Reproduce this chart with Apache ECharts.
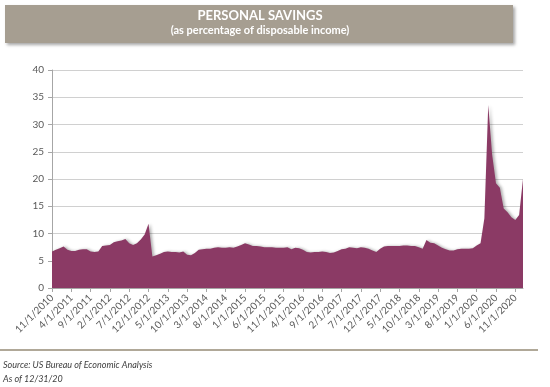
<!DOCTYPE html>
<html>
<head>
<meta charset="utf-8">
<script src="https://cdn.jsdelivr.net/npm/echarts@6/dist/echarts.min.js"></script>
<style>
html,body{margin:0;padding:0;background:#fff;}
#chart{width:550px;height:387px;}
</style>
</head>
<body>
<div id="chart"></div>
<script>
// Monthly dates from 11/1/2010 to 1/1/2021
var startYear = 2010, startMonth = 11, monthCount = 123;
var categories = [];
for (var i = 0; i < monthCount; i++) {
  var m = (startMonth - 1 + i) % 12 + 1;
  var y = startYear + Math.floor((startMonth - 1 + i) / 12);
  categories.push(m + '/1/' + y);
}

// Personal savings rate (% of disposable income)
var savings2010_2012 = [6.7, 7.0, 7.3, 7.6, 7.0, 6.8, 6.8, 7.0, 7.1, 7.1, 6.7, 6.6, 6.7, 7.7, 7.8, 7.9, 8.4, 8.6, 8.7, 9.0, 8.2, 7.9, 8.2, 8.9, 9.8, 11.8];
var savings2013_2015 = [5.8, 6.0, 6.3, 6.6, 6.7, 6.6, 6.6, 6.5, 6.7, 6.1, 6.0, 6.4, 7.0, 7.1, 7.2, 7.2, 7.4, 7.5, 7.4, 7.4, 7.5, 7.4, 7.6, 7.9, 8.2, 8.0, 7.7, 7.7, 7.6, 7.5, 7.5, 7.5, 7.4, 7.4, 7.4, 7.5];
var savings2016_2018 = [7.1, 7.4, 7.3, 7.0, 6.6, 6.5, 6.6, 6.6, 6.7, 6.6, 6.4, 6.5, 6.8, 7.1, 7.2, 7.5, 7.4, 7.3, 7.5, 7.4, 7.2, 6.9, 6.6, 7.2, 7.6, 7.7, 7.7, 7.7, 7.7, 7.8, 7.8, 7.7, 7.7, 7.5, 7.2, 8.8];
var savings2019_2021 = [8.3, 8.2, 7.8, 7.4, 7.1, 6.9, 6.9, 7.1, 7.2, 7.2, 7.2, 7.3, 7.8, 8.2, 12.8, 33.6, 24.5, 19.2, 18.4, 14.6, 13.9, 13.0, 12.5, 13.4, 20.0];
var savings = savings2010_2012.concat(savings2013_2015, savings2016_2018, savings2019_2021);

var yTicks = { min: 0, max: 40, interval: 5 };

var titleText = 'PERSONAL SAVINGS';
var subtitleText = '(as percentage of disposable income)';
var sourceText = 'Source: US Bureau of Economic Analysis';
var asOfText = 'As of 12/31/20';

var chart = echarts.init(document.getElementById('chart'), null, { renderer: 'canvas' });
var font = 'Lato, "Open Sans", sans-serif';

chart.setOption({
  animation: false,
  backgroundColor: '#ffffff',
  grid: { left: 52, right: 27, top: 70, bottom: 99, containLabel: false },
  graphic: [
    {
      type: 'rect', z: 10,
      shape: { x: 5, y: 5, width: 508, height: 38 },
      style: { fill: '#a69e91', shadowBlur: 3, shadowOffsetX: 2, shadowOffsetY: 2, shadowColor: 'rgba(0,0,0,0.35)' }
    },
    {
      type: 'text', z: 11,
      style: { text: titleText, x: 260, y: 16, fill: '#ffffff', font: 'bold 13px ' + font, align: 'center', verticalAlign: 'middle' }
    },
    {
      type: 'text', z: 11,
      style: { text: subtitleText, x: 260, y: 30, fill: '#ffffff', font: 'bold 11px ' + font, align: 'center', verticalAlign: 'middle' }
    },
    {
      type: 'line', z: 10,
      shape: { x1: 0, y1: 350, x2: 538, y2: 350 },
      style: { stroke: '#b0a898', lineWidth: 2 }
    },
    {
      type: 'text', z: 10,
      style: { text: sourceText, x: 3, y: 365, fill: '#404040', font: 'italic 9px ' + font, verticalAlign: 'middle' }
    },
    {
      type: 'text', z: 10,
      style: { text: asOfText, x: 3, y: 379, fill: '#404040', font: 'italic 9px ' + font, verticalAlign: 'middle' }
    }
  ],
  xAxis: {
    type: 'category',
    data: categories,
    boundaryGap: false,
    axisLine: { show: true, lineStyle: { color: '#a6a6a6', width: 1 } },
    axisTick: { show: true, interval: 4, length: 4, lineStyle: { color: '#a6a6a6' } },
    axisLabel: { interval: 4, rotate: 45, color: '#595959', fontSize: 10, fontFamily: font, margin: 8 },
    splitLine: { show: false }
  },
  yAxis: {
    type: 'value',
    min: yTicks.min, max: yTicks.max, interval: yTicks.interval,
    axisLine: { show: true, lineStyle: { color: '#a6a6a6', width: 1 } },
    axisTick: { show: true, length: 4, lineStyle: { color: '#a6a6a6' } },
    axisLabel: { color: '#595959', fontSize: 10, fontFamily: font, margin: 8 },
    splitLine: { show: true, lineStyle: { color: '#d0d0d0', width: 1 } }
  },
  series: [{
    type: 'line',
    data: savings,
    symbol: 'none',
    lineStyle: { width: 0 },
    areaStyle: { color: '#8b3a65', opacity: 1, shadowBlur: 3, shadowOffsetX: 2, shadowColor: 'rgba(0,0,0,0.3)' },
    z: 3
  }]
});
</script>
</body>
</html>
